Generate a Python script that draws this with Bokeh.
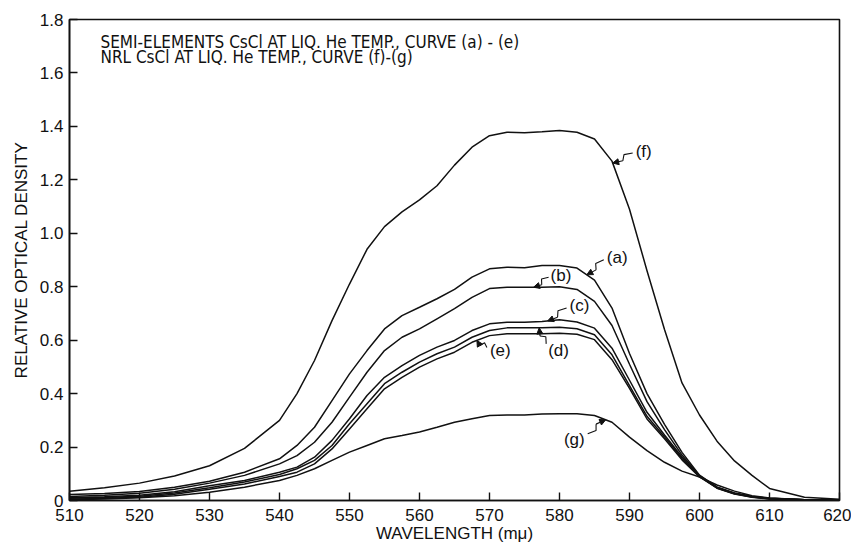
import numpy as np
from bokeh.plotting import figure
from bokeh.models import Range1d, FixedTicker, PrintfTickFormatter, Label, Arrow, NormalHead
from bokeh.embed import file_html
from bokeh.resources import INLINE

# ---------------- data ----------------
wavelength = [510, 515, 520, 525, 530, 535, 540, 542.5, 545, 547.5, 550, 552.5, 555, 557.5,
              560, 562.5, 565, 567.5, 570, 572.5, 575, 577.5, 580, 582.5, 585, 587.5, 590,
              592.5, 595, 597.5, 600, 602.5, 605, 607.5, 610, 615, 620]

curve_f = [0.035, 0.048, 0.065, 0.092, 0.13, 0.195, 0.30, 0.40, 0.524, 0.673, 0.81, 0.94, 1.025, 1.08,
           1.125, 1.178, 1.255, 1.322, 1.365, 1.378, 1.376, 1.38, 1.385, 1.378, 1.353, 1.27, 1.09,
           0.86, 0.64, 0.44, 0.32, 0.222, 0.148, 0.094, 0.045, 0.012, 0.005]
curve_a = [0.022, 0.026, 0.034, 0.05, 0.072, 0.106, 0.156, 0.206, 0.274, 0.374, 0.474, 0.561, 0.642, 0.692,
           0.723, 0.755, 0.79, 0.836, 0.867, 0.873, 0.871, 0.879, 0.879, 0.87, 0.825, 0.72, 0.55,
           0.40, 0.285, 0.18, 0.095, 0.05, 0.028, 0.015, 0.008, 0.003, 0.002]
curve_b = [0.015, 0.02, 0.027, 0.042, 0.065, 0.094, 0.137, 0.168, 0.218, 0.293, 0.387, 0.48, 0.561, 0.611,
           0.642, 0.68, 0.718, 0.76, 0.793, 0.798, 0.798, 0.798, 0.80, 0.79, 0.745, 0.655, 0.51,
           0.37, 0.265, 0.17, 0.093, 0.05, 0.027, 0.014, 0.008, 0.003, 0.002]
curve_c = [0.01, 0.014, 0.02, 0.033, 0.055, 0.075, 0.106, 0.125, 0.162, 0.225, 0.306, 0.393, 0.461, 0.505,
           0.543, 0.574, 0.599, 0.636, 0.661, 0.667, 0.667, 0.67, 0.676, 0.668, 0.645, 0.57, 0.45,
           0.33, 0.245, 0.163, 0.09, 0.048, 0.026, 0.014, 0.007, 0.003, 0.002]
curve_d = [0.008, 0.011, 0.016, 0.028, 0.048, 0.069, 0.097, 0.119, 0.15, 0.206, 0.287, 0.362, 0.437, 0.48,
           0.518, 0.549, 0.574, 0.611, 0.636, 0.646, 0.646, 0.646, 0.648, 0.643, 0.62, 0.545, 0.43,
           0.315, 0.238, 0.157, 0.09, 0.047, 0.025, 0.013, 0.007, 0.003, 0.002]
curve_e = [0.005, 0.008, 0.012, 0.023, 0.042, 0.062, 0.09, 0.106, 0.137, 0.193, 0.268, 0.343, 0.418, 0.461,
           0.499, 0.53, 0.555, 0.592, 0.617, 0.624, 0.624, 0.624, 0.626, 0.622, 0.602, 0.527, 0.42,
           0.305, 0.231, 0.152, 0.088, 0.046, 0.024, 0.012, 0.006, 0.003, 0.002]
curve_g = [0.003, 0.006, 0.01, 0.018, 0.031, 0.05, 0.075, 0.094, 0.119, 0.15, 0.181, 0.206, 0.231, 0.243,
           0.256, 0.274, 0.293, 0.306, 0.318, 0.32, 0.32, 0.324, 0.325, 0.325, 0.318, 0.293, 0.237,
           0.187, 0.143, 0.11, 0.088, 0.058, 0.035, 0.018, 0.009, 0.003, 0.002]

x_ticks = [510, 520, 530, 540, 550, 560, 570, 580, 590, 600, 610, 620]
y_ticks = [0, 0.2, 0.4, 0.6, 0.8, 1.0, 1.2, 1.4, 1.6, 1.8]

curve_names = ["(a)", "(b)", "(c)", "(d)", "(e)", "(f)", "(g)"]
curve_values = [curve_a, curve_b, curve_c, curve_d, curve_e, curve_f, curve_g]
# wavelength where each label's arrow touches its curve
label_at = [583.9, 576.3, 578.3, 577.1, 568.2, 587.6, 586.6]

title_lines = ["SEMI-ELEMENTS CsCl AT LIQ. He TEMP., CURVE (a) - (e)",
               "NRL CsCl AT LIQ.  He TEMP., CURVE (f)-(g)"]
x_title = "WAVELENGTH (mμ)"
y_title = "RELATIVE OPTICAL DENSITY"

# ---------------- figure ----------------
X0, X1, Y0, Y1 = 510, 620, 0, 1.8
W, H = 851, 546
BL, BR, BT, BB = 69, 12, 19, 46
FW, FH = W - BL - BR, H - BT - BB
PXX = FW / (X1 - X0)   # px per nm
PXY = FH / (Y1 - Y0)   # px per unit

p = figure(width=W, height=H, output_backend="svg", toolbar_location=None,
           x_range=Range1d(X0, X1), y_range=Range1d(Y0, Y1),
           min_border_left=BL, min_border_right=BR, min_border_top=BT, min_border_bottom=BB)
p.background_fill_color = "white"
p.border_fill_color = "white"
p.grid.visible = False
p.outline_line_color = "#111111"
p.outline_line_width = 1.6

FONT = "Liberation Sans"
for ax in (p.xaxis[0], p.yaxis[0]):
    ax.axis_line_color = "#111111"
    ax.axis_line_width = 1.6
    ax.major_tick_in = 8
    ax.major_tick_out = 0
    ax.major_tick_line_color = "#111111"
    ax.major_tick_line_width = 1.4
    ax.minor_tick_line_color = None
    ax.major_label_text_font = FONT
    ax.major_label_text_font_size = "17px"
    ax.major_label_text_color = "#111111"
    ax.axis_label_text_font = FONT
    ax.axis_label_text_font_style = "normal"
    ax.axis_label_text_color = "#111111"

p.xaxis.ticker = FixedTicker(ticks=x_ticks)
p.xaxis.major_label_standoff = 8
p.xaxis.axis_label = x_title
p.xaxis.axis_label_standoff = 0
p.xaxis.axis_label_text_font_size = "17px"

p.yaxis.ticker = FixedTicker(ticks=y_ticks)
p.yaxis.formatter = PrintfTickFormatter(format="%.1f")
p.yaxis.major_label_overrides = {0: "0"}
p.yaxis.major_label_standoff = 6
p.yaxis.axis_label = y_title
p.yaxis.axis_label_standoff = 6
p.yaxis.axis_label_text_font_size = "17px"

for vals in curve_values:
    p.line(wavelength, vals, line_color="#111111", line_width=1.5)

def to_data(x, y, dx, dy):
    return x + dx / PXX, y - dy / PXY

# ---------------- labels with zig-zag arrows ----------------
# (tail offset px, text offset px, text align) relative to tip; screen y downward
label_geom = {
    "(a)": ((17, -15), (20, -17), "left"),
    "(b)": ((15, -10), (17, -12), "left"),
    "(c)": ((19, -13), (22, -15), "left"),
    "(d)": ((7, 16), (9, 23), "left"),
    "(e)": ((10, 7), (13, 10), "left"),
    "(f)": ((20, -10), (23, -12), "left"),
    "(g)": ((-18, 14), (-21, 20), "right"),
}

for name, vals, lam in zip(curve_names, curve_values, label_at):
    tip_x = lam
    tip_y = float(np.interp(lam, wavelength, vals))
    (tdx, tdy), (lx, ly), align = label_geom[name]
    L = np.hypot(tdx, tdy)
    ux, uy = -tdx / L, -tdy / L          # from tail toward tip
    nx, ny = -uy, ux                      # normal
    p1 = (tdx + ux * L * 0.38 + nx * 2.5, tdy + uy * L * 0.38 + ny * 2.5)
    p2 = (tdx + ux * L * 0.55 - nx * 2.5, tdy + uy * L * 0.55 - ny * 2.5)
    pts = [(tdx, tdy), p1, p2]
    xs, ys = zip(*[to_data(tip_x, tip_y, a, b) for a, b in pts])
    p.line(list(xs), list(ys), line_color="#111111", line_width=1.1)
    p.add_layout(Arrow(end=NormalHead(size=6, fill_color="#111111", line_color="#111111"),
                       x_start=xs[-1], y_start=ys[-1], x_end=tip_x, y_end=tip_y,
                       line_color="#111111", line_width=1.1))
    tx, ty = to_data(tip_x, tip_y, lx, ly)
    p.add_layout(Label(x=tx, y=ty, text=name, text_font=FONT, text_font_size="17px",
                       text_color="#111111", text_align=align, text_baseline="middle"))

# ---------------- title text inside the plot ----------------
tx0, ty0 = to_data(X0, Y1, 100 - 69, 41 - 19)
for i, line in enumerate(title_lines):
    p.add_layout(Label(x=tx0, y=ty0 - i * 15.5 / PXY, text=line,
                       text_font="Liberation Sans Narrow, DejaVu Sans Condensed, Liberation Sans",
                       text_font_size="17px", text_color="#111111", text_baseline="middle"))

open("out.html", "w").write(file_html(p, INLINE))
